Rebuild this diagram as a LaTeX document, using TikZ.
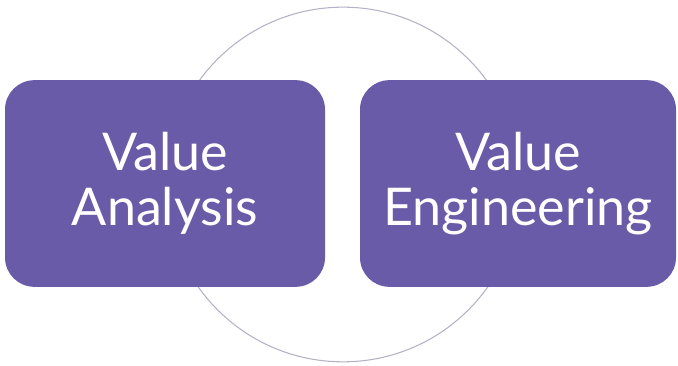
\documentclass[tikz,border=0pt]{standalone}
\usepackage{fontspec}
\setmainfont{Lato}
\definecolor{boxpurple}{HTML}{6A5BA8}
\definecolor{ringgray}{HTML}{B4B2C6}
\begin{document}
\begin{tikzpicture}[x=0.75pt,y=-0.75pt,
  vbox/.style={fill=boxpurple,draw=none,rounded corners=22pt,minimum width=240pt,minimum height=155pt,
    text=white,align=center,font=\fontsize{39}{41}\selectfont,inner sep=0pt}]
\useasboundingbox (0,0) rectangle (678,366);
\node[circle,draw=ringgray,line width=0.8pt,minimum size=266pt,inner sep=0pt] (ring) at (343,184.5) {};
\node[vbox] (va) at (165,183.5) {Value\\Analysis};
\node[vbox,minimum width=237pt] (ve) at (518,183.5) {Value\\Engineering};
\end{tikzpicture}
\end{document}
